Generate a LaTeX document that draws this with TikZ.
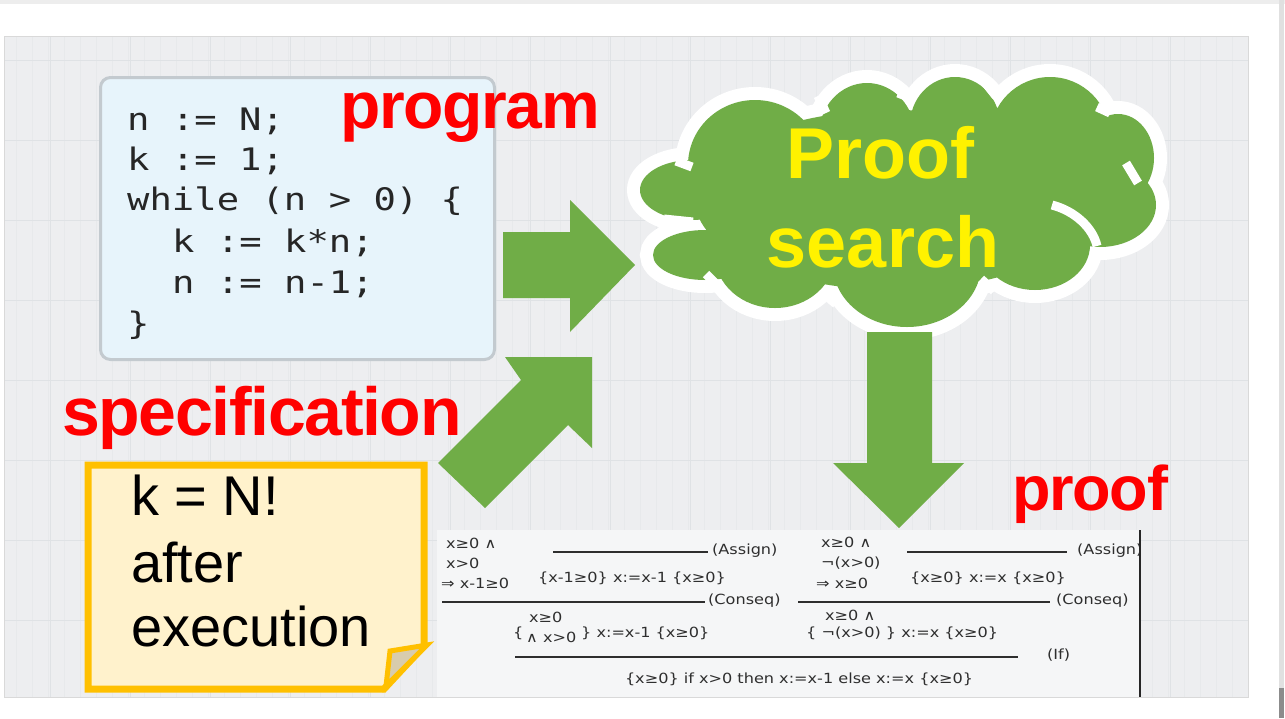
\documentclass[tikz,border=0pt]{standalone}
\usepackage{fontspec}
\usepackage{graphicx}
\setmainfont{Liberation Sans}
\newfontfamily\labelfont[LetterSpace=-2]{Liberation Sans}
\newfontfamily\codefont{DejaVu Sans Mono}
\newfontfamily\prooffont{DejaVu Sans}
\definecolor{panelbg}{HTML}{EDEEF0}
\definecolor{gridminor}{HTML}{E7E9EB}
\definecolor{gridmajor}{HTML}{DFE2E5}
\definecolor{codebg}{HTML}{E7F4FB}
\definecolor{codeborder}{HTML}{C3CACF}
\definecolor{leaf}{HTML}{70AD47}
\definecolor{notebg}{HTML}{FFF2CC}
\definecolor{noteedge}{HTML}{FFC000}
\definecolor{flap}{HTML}{D8CCAD}
\definecolor{proofink}{HTML}{2E2E2E}
\definecolor{proofbg}{HTML}{F5F6F7}
\newcommand{\codeline}[1]{\scalebox{1.2}[1]{\codefont\fontsize{31}{31}\selectfont #1}}
\newcommand{\pftext}[1]{\scalebox{1.15}[1]{\prooffont\fontsize{14}{14}\selectfont #1}}
\begin{document}
\begin{tikzpicture}[x=1pt,y=-1pt,
  redlabel/.style={text=red,inner sep=0,anchor=base west},
  codetext/.style={inner sep=0,anchor=base west,text=black!85},
  notetext/.style={inner sep=0,anchor=base west,font=\fontsize{56}{56}\selectfont},
  blockarrow/.style={fill=leaf,draw=none},
  pf/.style={inner sep=0,text=proofink},
  pfw/.style={pf,anchor=west},
  rule/.style={draw=proofink,line width=2pt},
  puffarc/.style={draw=white,line width=9pt,line cap=butt}]
\useasboundingbox (0,0) rectangle (1285,718);
\fill[white] (0,0) rectangle (1285,718);
% window chrome
\fill[black!7] (0,0) rectangle (1285,4);
\fill[black!12] (1279,0) rectangle (1284,718);
\fill[black!45] (1279,688) rectangle (1284,718);

% grid panel
\fill[panelbg] (4,36) rectangle (1248,697);
\begin{scope}
  \clip (4,36) rectangle (1248,697);
  \draw[gridminor,line width=0.5pt] (4,36) grid[step=16] (1248,697);
  \foreach \gx in {50,130,...,1250} \draw[gridmajor,line width=1pt] (\gx,36) -- (\gx,697);
  \foreach \gy in {60,140,...,700} \draw[gridmajor,line width=1pt] (4,\gy) -- (1248,\gy);
\end{scope}
\draw[black!15,line width=1pt] (4,36) rectangle (1248,697);

% program box
\node[draw=codeborder,fill=codebg,line width=3pt,rounded corners=10pt,
      minimum width=394pt,minimum height=282pt,inner sep=0,anchor=north west] (codebox) at (99,76) {};
\node[codetext] (c1) at (127,130) {\codeline{n := N;}};
\node[codetext] (c2) at (127,170) {\codeline{k := 1;}};
\node[codetext] (c3) at (127,210) {\codeline{while (n > 0) \{}};
\node[codetext] (c4) at (172,252) {\codeline{k := k*n;}};
\node[codetext] (c5) at (172,293) {\codeline{n := n-1;}};
\node[codetext] (c6) at (127,334) {\codeline{\}}};

% labels
\node[redlabel,font=\labelfont\bfseries\fontsize{66}{66}\selectfont] (lprog) at (340,128) {program};
\node[redlabel,font=\labelfont\bfseries\fontsize{68}{68}\selectfont] (lspec) at (62,435) {specification};
\node[redlabel,font=\labelfont\bfseries\fontsize{63}{63}\selectfont] (lproof) at (1012,510) {proof};

% cloud: white halo first, green body on top
\def\puffs{
  (692,190) ellipse [x radius=52,y radius=30]
  (705,255) ellipse [x radius=52,y radius=25]
  (775,255) ellipse [x radius=60,y radius=53]
  (907,265) ellipse [x radius=74,y radius=62]
  (1035,245) ellipse [x radius=55,y radius=45]
  (1100,205) ellipse [x radius=56,y radius=42]
  (1118,158) ellipse [x radius=36,y radius=44]
  (1050,137) ellipse [x radius=60,y radius=60]
  (955,125) ellipse [x radius=45,y radius=48]
  (867,135) ellipse [x radius=48,y radius=52]
  (755,165) ellipse [x radius=67,y radius=65]
  (895,200) ellipse [x radius=200,y radius=90]}
\draw[white,line width=26pt] \puffs;
\fill[leaf] \puffs;
% puff seams
\draw[puffarc] (1052,205) .. controls (1075,211) and (1093,228) .. (1097,246);
\draw[puffarc] (664,219) -- (693,222);
\draw[puffarc] (676,161) -- (692,167);
\draw[puffarc] (818,96) -- (826,113);
\draw[puffarc] (898,93) -- (913,99);
\draw[puffarc] (984,81) -- (996,96);
\draw[puffarc] (1097,107) -- (1110,113);
\draw[puffarc] (1126,163) -- (1138,183);
\draw[puffarc] (981,279) -- (994,291);
\draw[puffarc] (823,293) -- (836,304);
\draw[puffarc] (706,274) -- (720,288);
\node[inner sep=0,text=yellow,font=\bfseries\fontsize{72}{72}\selectfont,anchor=base] (proof) at (880,178) {Proof};
\node[inner sep=0,text=yellow,font=\bfseries\fontsize{72}{72}\selectfont,anchor=base] (search) at (883,267) {search};

% block arrows
\fill[blockarrow] (503,232) -- (570,232) -- (570,200) -- (635,265) -- (570,332) -- (570,298) -- (503,298) -- cycle;
\fill[blockarrow] (505,357) -- (592,357) -- (592,448) -- (568,425) -- (485,508) -- (438,463) -- (521,380) -- cycle;
\fill[blockarrow] (867,332) -- (932,332) -- (932,463) -- (964,463) -- (899,528) -- (833,463) -- (867,463) -- cycle;

% specification note
\path[fill=notebg,draw=noteedge,line width=7pt,line join=miter]
  (88,465) -- (424,465) -- (424,646) -- (384,689) -- (88,689) -- cycle;
\path[fill=flap,draw=noteedge,line width=5pt,line join=miter]
  (386,686) -- (390,651) -- (427,645) -- cycle;
\node[notetext] (n1) at (131,515) {k = N!};
\node[notetext] (n2) at (131,582) {after};
\node[notetext] (n3) at (131,646) {execution};

% proof derivation
\fill[proofbg] (437,530) rectangle (1140,697);
\begin{scope}
\clip (437,528) rectangle (1140,699);
\node[pfw] (p1) at (446,543) {\pftext{x≥0 ∧}};
\node[pfw] (p2) at (446,563) {\pftext{x>0}};
\node[pfw] (p3) at (441,583) {\pftext{⇒ x-1≥0}};
\draw[rule] (553,552) -- (708,552);
\node[pfw] (a1) at (712,551) {\pftext{(Assign)}};
\node[pf] (t1) at (632,578) {\pftext{\{x-1≥0\} x:=x-1 \{x≥0\}}};
\node[pfw] (q1) at (821,542) {\pftext{x≥0 ∧}};
\node[pfw] (q2) at (821,563) {\pftext{¬(x>0)}};
\node[pfw] (q3) at (816,583) {\pftext{⇒ x≥0}};
\draw[rule] (907,552) -- (1067,552);
\node[pfw] (a2) at (1077,551) {\pftext{(Assign)}};
\node[pf] (t2) at (988,578) {\pftext{\{x≥0\} x:=x \{x≥0\}}};
\draw[rule] (442,602) -- (705,602);
\node[pfw] (a3) at (708,601) {\pftext{(Conseq)}};
\draw[rule] (798,602) -- (1050,602);
\node[pfw] (a4) at (1056,601) {\pftext{(Conseq)}};
\node[pfw] (r1) at (529,617) {\pftext{x≥0}};
\node[pfw] (r2) at (513,633) {\pftext{\{}};
\node[pfw] (r3) at (526,637) {\pftext{∧ x>0}};
\node[pfw] (r4) at (581,633) {\pftext{\} x:=x-1 \{x≥0\}}};
\node[pfw] (s1) at (825,615) {\pftext{x≥0 ∧}};
\node[pfw] (s2) at (806,633) {\pftext{\{ ¬(x>0) \} x:=x \{x≥0\}}};
\draw[rule] (515,657) -- (1018,657);
\node[pfw] (a5) at (1047,655) {\pftext{(If)}};
\node[pf] (t3) at (799,679) {\pftext{\{x≥0\} if x>0 then x:=x-1 else x:=x \{x≥0\}}};
\end{scope}
\draw[black!85,line width=2.5pt] (1140,530) -- (1140,697);
\end{tikzpicture}
\end{document}
